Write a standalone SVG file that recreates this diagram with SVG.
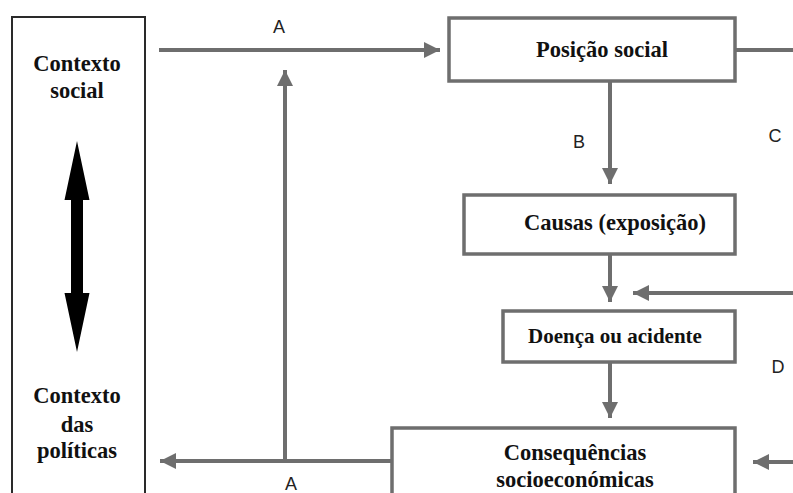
<svg xmlns="http://www.w3.org/2000/svg" width="793" height="493" viewBox="0 0 793 493">
<defs>
<style>
.box{fill:#fff;stroke:#6e6e6e;stroke-width:3.5}
.ctx{fill:#fff;stroke:#2a2a2a;stroke-width:2}
.lbl{font-family:"Liberation Serif","Times New Roman",serif;font-weight:bold;font-size:22.5px;fill:#111;text-anchor:middle}
.let{font-family:"Liberation Sans",Arial,sans-serif;font-size:18px;fill:#222;text-anchor:middle}
.con{fill:none;stroke:#6e6e6e;stroke-width:4}
</style>
<marker id="ah" viewBox="0 0 10 10" refX="10" refY="5" markerWidth="4.5" markerHeight="4" markerUnits="strokeWidth" orient="auto">
<path d="M0,0 L10,5 L0,10 Z" fill="#6e6e6e"/>
</marker>
</defs>
<rect width="793" height="493" fill="#fff"/>
<g id="contexto">
<rect class="ctx" x="12" y="17" width="133" height="490"/>
<text class="lbl" x="77" y="71">Contexto</text>
<text class="lbl" x="77" y="98">social</text>
<path d="M77,141 L89.5,200 L83,200 L83,293 L89.5,293 L77,352 L64.5,293 L71,293 L71,200 L64.5,200 Z" fill="#000"/>
<text class="lbl" x="77" y="403">Contexto</text>
<text class="lbl" x="77" y="432">das</text>
<text class="lbl" x="77" y="458">políticas</text>
</g>
<g id="posicao">
<rect class="box" x="449" y="18" width="286" height="63"/>
<text class="lbl" x="602" y="57">Posição social</text>
</g>
<g id="causas">
<rect class="box" x="464" y="195" width="271" height="59"/>
<text class="lbl" x="615" y="230">Causas (exposição)</text>
</g>
<g id="doenca">
<rect class="box" x="503" y="311" width="232" height="51"/>
<text class="lbl" x="615" y="343" style="font-size:21px">Doença ou acidente</text>
</g>
<g id="consequencias">
<rect class="box" x="392" y="428" width="343" height="80"/>
<text class="lbl" x="575" y="460">Consequências</text>
<text class="lbl" x="575" y="487">socioeconómicas</text>
</g>
<g id="connectors">
<line class="con" x1="159" y1="50" x2="440" y2="50" marker-end="url(#ah)"/>
<line class="con" x1="735" y1="50" x2="795" y2="50"/>
<line class="con" x1="610" y1="82" x2="610" y2="184" marker-end="url(#ah)"/>
<line class="con" x1="610" y1="254" x2="610" y2="302" marker-end="url(#ah)"/>
<line class="con" x1="795" y1="293" x2="633" y2="293" marker-end="url(#ah)"/>
<line class="con" x1="610" y1="362" x2="610" y2="418" marker-end="url(#ah)"/>
<line class="con" x1="795" y1="462" x2="753" y2="462" marker-end="url(#ah)"/>
<line class="con" x1="392" y1="461" x2="160" y2="461" marker-end="url(#ah)"/>
<line class="con" x1="285" y1="461" x2="285" y2="70" marker-end="url(#ah)"/>
<text class="let" x="279" y="33">A</text>
<text class="let" x="291" y="490">A</text>
<text class="let" x="579" y="148">B</text>
<text class="let" x="775" y="142">C</text>
<text class="let" x="778" y="373">D</text>
</g>
</svg>
